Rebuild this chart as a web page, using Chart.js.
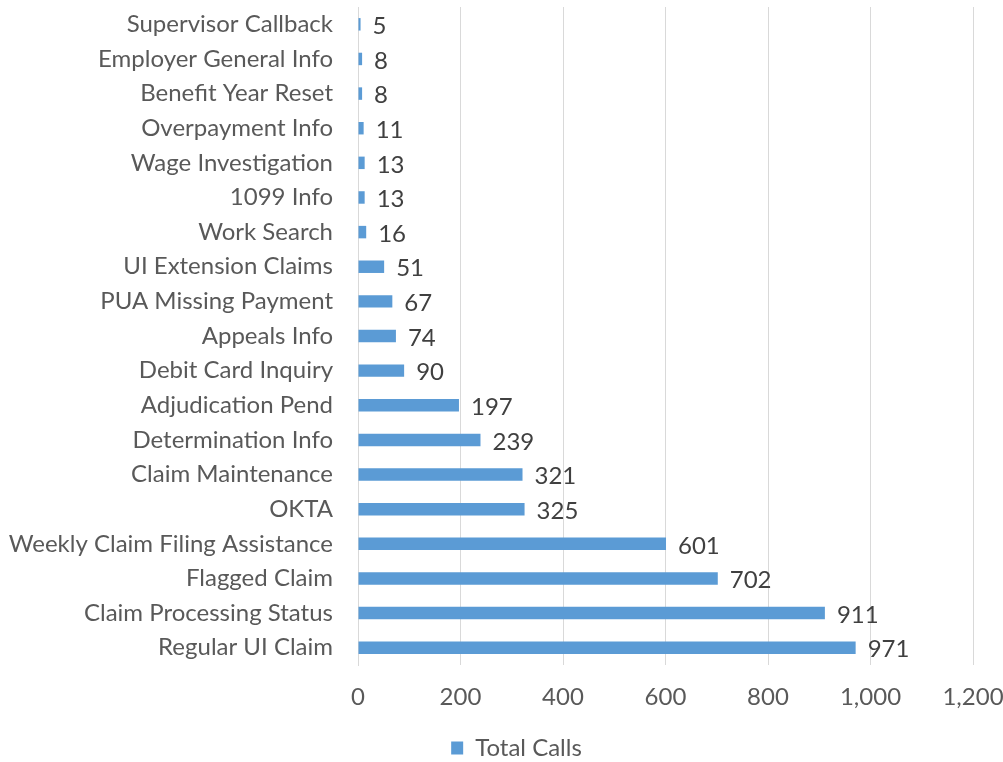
<!DOCTYPE html>
<html>
<head>
<meta charset="utf-8">
<script src="https://cdn.jsdelivr.net/npm/chart.js@4/dist/chart.umd.min.js"></script>
<style>
  html, body { margin: 0; padding: 0; background: #ffffff; }
  #wrap { width: 1003px; height: 762px; position: relative; }
</style>
</head>
<body>
<div id="wrap"><canvas id="c" width="1003" height="762"></canvas></div>
<script>
const categories = [
  "Supervisor Callback", "Employer General Info", "Benefit Year Reset", "Overpayment Info",
  "Wage Investigation", "1099 Info", "Work Search", "UI Extension Claims", "PUA Missing Payment",
  "Appeals Info", "Debit Card Inquiry", "Adjudication Pend", "Determination Info",
  "Claim Maintenance", "OKTA", "Weekly Claim Filing Assistance", "Flagged Claim",
  "Claim Processing Status", "Regular UI Claim"
];
const totalCalls = [5, 8, 8, 11, 13, 13, 16, 51, 67, 74, 90, 197, 239, 321, 325, 601, 702, 911, 971];
const seriesName = "Total Calls";
const xMin = 0, xMax = 1200, xStep = 200;

const FONT = "Lato";
const FS = 24;
Chart.defaults.font.family = FONT;
Chart.defaults.font.size = FS;

const dataLabels = {
  id: 'dataLabels',
  afterDatasetsDraw(chart) {
    const ctx = chart.ctx;
    const meta = chart.getDatasetMeta(0);
    ctx.save();
    ctx.font = FS + "px " + FONT;
    ctx.fillStyle = "#404040";
    ctx.textAlign = "left";
    ctx.textBaseline = "middle";
    meta.data.forEach((bar, i) => {
      const v = chart.data.datasets[0].data[i];
      ctx.fillText(v.toLocaleString('en-US'), bar.x + 12, bar.y + 2);
    });
    ctx.restore();
  }
};

const legendFix = {
  id: 'legendFix',
  afterInit(chart) {
    const lg = chart.legend;
    const orig = lg.fit;
    lg.fit = function () { orig.call(this); this.height = 30; };
  },
  afterLayout(chart) {
    const lg = chart.legend;
    if (lg) { lg.right += 60; lg.width += 60; }
  }
};

new Chart(document.getElementById('c'), {
  type: 'bar',
  data: {
    labels: categories,
    datasets: [{
      label: seriesName,
      data: totalCalls,
      backgroundColor: '#5B9BD5',
      borderWidth: 0,
      categoryPercentage: 1,
      barPercentage: 0.36
    }]
  },
  options: {
    indexAxis: 'y',
    responsive: false,
    animation: false,
    devicePixelRatio: 1,
    layout: { padding: { top: 7, right: 30, left: 0, bottom: 0 } },
    scales: {
      x: {
        min: xMin, max: xMax,
        ticks: {
          stepSize: xStep,
          color: '#595959',
          padding: 18,
          maxRotation: 0,
          callback: (v) => Number(v).toLocaleString('en-US')
        },
        grid: { color: '#d9d9d9', lineWidth: 1, drawTicks: false },
        border: { display: false },
        afterFit(scale) { scale.height = 67; scale.paddingLeft = 0; scale.paddingRight = 0; }
      },
      y: {
        ticks: { color: '#595959', padding: 25, autoSkip: false },
        grid: { display: false, drawTicks: false },
        border: { display: true, color: '#d9d9d9', width: 1 },
        afterFit(scale) { scale.width = 358; scale.paddingTop = 0; scale.paddingBottom = 0; }
      }
    },
    plugins: {
      legend: {
        display: true,
        position: 'bottom',
        labels: {
          boxWidth: 12, boxHeight: 13, padding: 4,
          color: '#595959',
          font: { size: FS, family: FONT }
        }
      },
      tooltip: { enabled: false }
    }
  },
  plugins: [dataLabels, legendFix]
});
</script>
</body>
</html>
